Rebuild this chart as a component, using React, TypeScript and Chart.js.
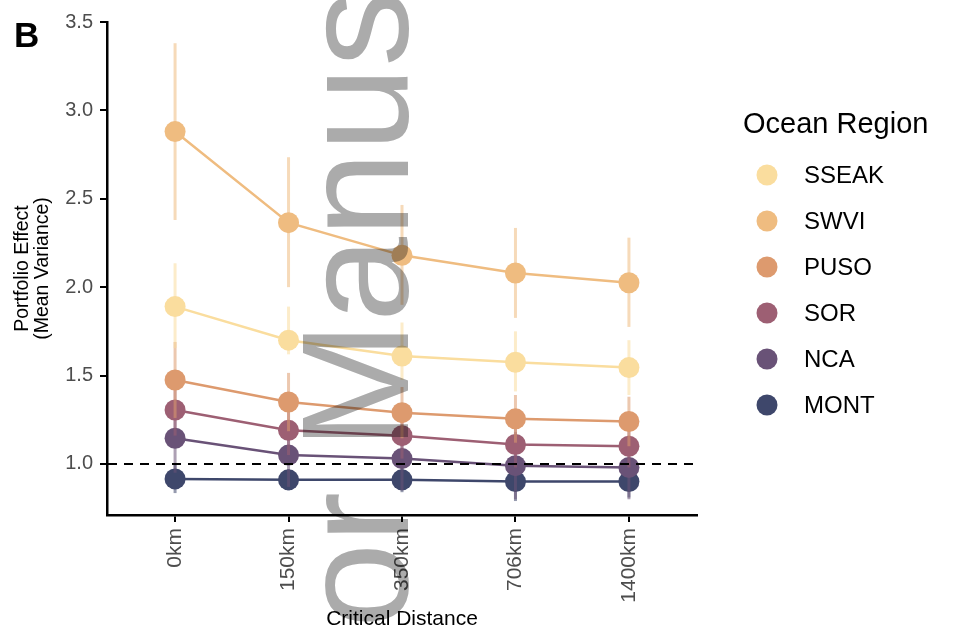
import React, { useEffect, useRef } from 'react';
import { Chart, registerables } from 'chart.js';
Chart.register(...registerables);

const FONT = '"Liberation Sans", Arial, Helvetica, sans-serif';

const categories = ['0km', '150km', '350km', '706km', '1400km'];
const regions = ['SSEAK', 'SWVI', 'PUSO', 'SOR', 'NCA', 'MONT'];
const colors = ['#FADD9E', '#EFBC80', '#DD9A6E', '#9D5F73', '#695277', '#3E476B'];
const yTicks = [1.0, 1.5, 2.0, 2.5, 3.0, 3.5];

const sseakMean = [1.89, 1.70, 1.61, 1.575, 1.545];
const sseakLo = [1.655, 1.62, 1.475, 1.41, 1.39];
const sseakHi = [2.135, 1.89, 1.80, 1.75, 1.70];

const swviMean = [2.88, 2.365, 2.18, 2.08, 2.025];
const swviLo = [2.38, 2.0, 1.90, 1.826, 1.775];
const swviHi = [3.38, 2.735, 2.465, 2.335, 2.28];

const pusoMean = [1.475, 1.35, 1.29, 1.255, 1.24];
const pusoLo = [1.26, 1.185, 1.145, 1.12, 1.10];
const pusoHi = [1.69, 1.515, 1.435, 1.39, 1.38];

const sorMean = [1.305, 1.19, 1.16, 1.11, 1.10];
const sorLo = [1.16, 1.05, 1.03, 0.98, 0.98];
const sorHi = [1.45, 1.33, 1.29, 1.24, 1.22];

const ncaMean = [1.145, 1.05, 1.03, 0.99, 0.98];
const ncaLo = [0.95, 0.87, 0.85, 0.80, 0.80];
const ncaHi = [1.34, 1.23, 1.21, 1.18, 1.16];

const montMean = [0.915, 0.91, 0.91, 0.90, 0.90];
const montLo = [0.835, 0.85, 0.84, 0.79, 0.81];
const montHi = [0.995, 0.97, 0.98, 1.01, 0.99];

const means = [sseakMean, swviMean, pusoMean, sorMean, ncaMean, montMean];
const los = [sseakLo, swviLo, pusoLo, sorLo, ncaLo, montLo];
const his = [sseakHi, swviHi, pusoHi, sorHi, ncaHi, montHi];

function rgba(hex: string, a: number) {
  const n = parseInt(hex.slice(1), 16);
  return `rgba(${(n >> 16) & 255},${(n >> 8) & 255},${n & 255},${a})`;
}

const errorBarPlugin = {
  id: 'errorBars',
  beforeDatasetDraw(chart: any, args: any) {
    const ds = chart.data.datasets[args.index];
    const { ctx, scales } = chart;
    ctx.save();
    ctx.strokeStyle = rgba(ds.borderColor, 0.55);
    ctx.lineWidth = 3;
    ctx.lineCap = 'butt';
    ds.errLo.forEach((lo: number, j: number) => {
      const px = scales.x.getPixelForValue(j);
      ctx.beginPath();
      ctx.moveTo(px, scales.y.getPixelForValue(lo));
      ctx.lineTo(px, scales.y.getPixelForValue(ds.errHi[j]));
      ctx.stroke();
    });
    ctx.restore();
  },
};

const refLinePlugin = {
  id: 'refLine',
  afterDatasetsDraw(chart: any) {
    const { ctx, chartArea, scales } = chart;
    const py = scales.y.getPixelForValue(1);
    ctx.save();
    ctx.strokeStyle = '#000';
    ctx.lineWidth = 2;
    ctx.setLineDash([9, 7]);
    ctx.beginPath();
    ctx.moveTo(chartArea.left + 1, py);
    ctx.lineTo(chartArea.right, py);
    ctx.stroke();
    ctx.restore();
  },
};

const decorPlugin = {
  id: 'decor',
  afterDraw(chart: any) {
    const { ctx } = chart;
    ctx.save();
    // panel tag
    ctx.fillStyle = '#000';
    ctx.font = `bold 35px ${FONT}`;
    ctx.textBaseline = 'alphabetic';
    ctx.textAlign = 'left';
    ctx.fillText('B', 14, 47);
    // legend
    ctx.font = `29px ${FONT}`;
    ctx.textBaseline = 'middle';
    ctx.fillText('Ocean Region', 743, 125);
    ctx.font = `24px ${FONT}`;
    regions.forEach((r, i) => {
      const cy = 175 + i * 46;
      ctx.fillStyle = colors[i];
      ctx.beginPath();
      ctx.arc(767, cy, 10.5, 0, Math.PI * 2);
      ctx.fill();
      ctx.fillStyle = '#000';
      ctx.fillText(r, 804, cy + 1);
    });
    // watermark
    ctx.globalCompositeOperation = 'multiply';
    ctx.fillStyle = '#ababab';
    ctx.font = `153px ${FONT}`;
    ctx.textBaseline = 'alphabetic';
    ctx.translate(408, 628);
    ctx.rotate(-Math.PI / 2);
    ctx.fillText('or Manus', 0, 0);
    ctx.restore();
  },
};

export default function App() {
  const ref = useRef<HTMLCanvasElement>(null);
  useEffect(() => {
    document.body.style.margin = '0';
    const canvas = ref.current!;
    const chart = new Chart(canvas, {
      type: 'line',
      data: {
        datasets: regions.map((r, i) => ({
          label: r,
          data: means[i].map((v, j) => ({ x: j, y: v })),
          borderColor: colors[i],
          backgroundColor: colors[i],
          borderWidth: 2.5,
          pointRadius: 10.5,
          pointHoverRadius: 10.5,
          pointBorderWidth: 0,
          fill: false,
          tension: 0,
          errLo: los[i],
          errHi: his[i],
        })) as any,
      },
      options: {
        animation: false,
        responsive: false,
        devicePixelRatio: 1,
        layout: { padding: { left: 0, top: 22, right: 261, bottom: 0 } },
        plugins: { legend: { display: false }, tooltip: { enabled: false } },
        events: [],
        scales: {
          x: {
            type: 'linear',
            min: -0.6,
            max: 4.6,
            afterBuildTicks: (s: any) => {
              s.ticks = categories.map((_, i) => ({ value: i }));
            },
            afterFit: (s: any) => {
              s.height = 115;
            },
            ticks: {
              minRotation: 90,
              maxRotation: 90,
              padding: 6,
              color: '#4d4d4d',
              font: { family: FONT, size: 21 },
              callback: (v: any) => categories[v] ?? '',
            },
            grid: {
              display: true,
              drawOnChartArea: false,
              drawTicks: true,
              tickLength: 7,
              color: '#000',
              lineWidth: 2,
            },
            border: { display: true, color: '#000', width: 2.5 },
            title: {
              display: true,
              text: 'Critical Distance',
              color: '#000',
              font: { family: FONT, size: 21, lineHeight: 1.0 },
              padding: { top: 0, bottom: 0 },
            },
          },
          y: {
            type: 'linear',
            min: 0.711,
            max: 3.5,
            afterBuildTicks: (s: any) => {
              s.ticks = yTicks.map((v) => ({ value: v }));
            },
            afterFit: (s: any) => {
              s.width = 107;
            },
            ticks: {
              padding: 7,
              color: '#4d4d4d',
              font: { family: FONT, size: 20 },
              callback: (v: any) => Number(v).toFixed(1),
            },
            grid: {
              display: true,
              drawOnChartArea: false,
              drawTicks: true,
              tickLength: 7,
              color: '#000',
              lineWidth: 2,
            },
            border: { display: true, color: '#000', width: 2.5 },
            title: {
              display: true,
              text: ['Portfolio Effect', '(Mean Variance)'],
              color: '#000',
              font: { family: FONT, size: 19.5, lineHeight: 1.05 },
              padding: { top: 12, bottom: 0 },
            },
          },
        },
      },
      plugins: [errorBarPlugin, refLinePlugin, decorPlugin],
    } as any);
    return () => chart.destroy();
  }, []);
  return (
    <div style={{ width: 958, height: 630 }}>
      <canvas ref={ref} width={958} height={630} style={{ display: 'block' }} />
    </div>
  );
}
